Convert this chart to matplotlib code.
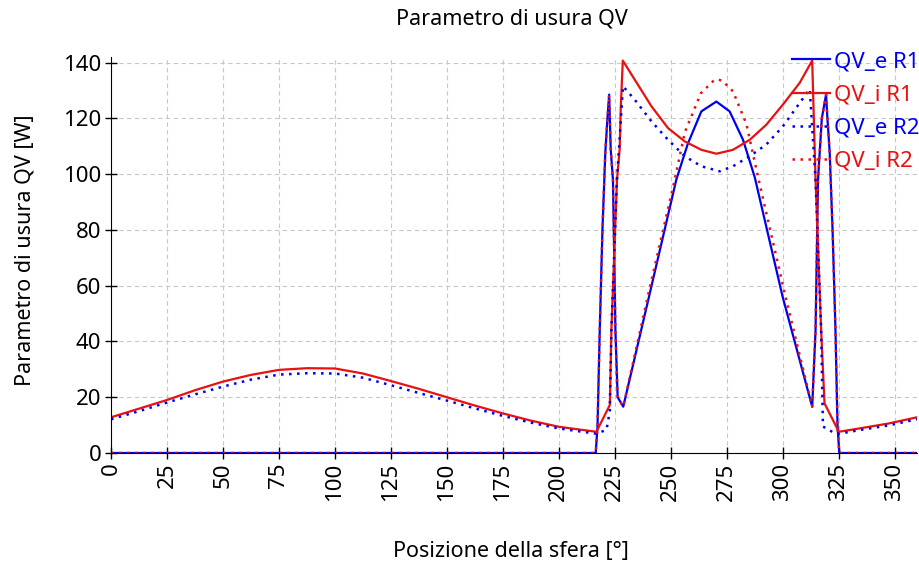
import matplotlib.pyplot as plt

plt.rcParams["font.family"] = ["Noto Sans", "DejaVu Sans"]

BLUE = "#0000f0"
RED = "#e81010"

# sinusoidal part outside the loaded zone
sin_x = [0, 12.5, 25, 37.5, 50, 62.5, 75, 87.5, 100, 112.5, 125, 137.5,
         150, 162.5, 175, 187.5, 200, 216.8]
sin_i_r1 = [12.8, 15.9, 19.0, 22.5, 25.6, 28.0, 29.8, 30.4, 30.3, 28.5, 25.8,
            23.0, 20.0, 17.0, 14.2, 11.6, 9.4, 7.6]
sin_e_r2 = [12.1, 15.0, 18.1, 21.0, 23.8, 26.3, 28.1, 28.6, 28.5, 27.0, 24.3,
            21.5, 18.8, 16.0, 13.3, 10.9, 8.8, 6.9]

# QV_e R1
e_r1_x = [0, 216.5, 217.3, 218.3, 219.5, 220.8, 221.7, 222.5, 223.2, 224.2,
          225.3, 226.3, 228.8, 240, 252.5, 257.7, 263.7, 270.4, 276.3, 282.3,
          287.5, 300, 313.2, 314.7, 315.8, 317.5, 319.4, 320, 321, 322.3,
          323.6, 324.5, 325.3, 360]
e_r1_y = [0, 0, 9.5, 44, 80, 108, 119.5, 128.5, 108.8, 98,
          44, 20, 16.6, 55, 98, 111, 122.5, 126, 122.5, 112.3,
          99, 56, 16.6, 44, 98, 120, 128.5, 120, 108, 80,
          44, 10, 0, 0]

# QV_i R1
i_r1_x = sin_x + [222.8, 223.5, 226, 227.2, 227.7, 228.6, 233.9, 241.4, 248.8,
                  256.3, 263.7, 270.4, 277.8, 285.3, 292.7, 300.1, 307.6,
                  313.2, 314.7, 317.2, 318.7, 325.1, 335, 347.5, 360]
i_r1_y = sin_i_r1 + [17.2, 44, 98, 109, 124, 140.7, 133.9, 124.3, 116.5,
                     111.7, 108.7, 107.3, 108.7, 112.3, 117.7, 124.9, 132.7,
                     140.7, 98, 44, 17.8, 7.6, 8.9, 10.6, 12.8]

# QV_e R2
e_r2_x = sin_x + [221.3, 222.8, 223.5, 226, 228.7, 233.9, 241.4, 248.8, 256.3,
                  263.7, 271.9, 277.8, 285.3, 292.7, 300.1, 307.6, 312.1,
                  314.7, 317.2, 318, 323.2, 325.2, 335, 347.5, 360]
e_r2_y = sin_e_r2 + [8.3, 15, 44, 98, 131.5, 126.7, 118.9, 112.3, 106.4,
                     102.8, 101, 102.8, 106.4, 110.6, 117.1, 125.5, 130.5,
                     98, 44, 9.5, 7.1, 6.9, 8.3, 9.9, 12.1]

# QV_i R2
i_r2_x = [0, 216.5, 217.3, 218.3, 219.5, 220.8, 221.7, 222.5, 223.2, 224.2,
          225.3, 226.3, 228.8, 240, 251.8, 256.3, 263.5, 268.9, 270.5, 273,
          277.8, 283.8, 289, 301, 313.2, 314.7, 315.8, 317.5, 319.4, 320, 321,
          322.3, 323.6, 324.5, 325.3, 360]
i_r2_y = [0, 0, 9.5, 44, 80, 108, 119.5, 128.5, 108.8, 98,
          44, 20, 16.6, 57, 98, 115, 129, 133.3, 134, 133.5,
          129.7, 118, 99, 57, 16.6, 44, 98, 120, 128.5, 120, 108,
          80, 44, 10, 0, 0]

x_ticks = list(range(0, 351, 25))
y_ticks = list(range(0, 141, 20))

fig = plt.figure(figsize=(9.2, 5.69), dpi=100)
ax = fig.add_axes([0.1207, 0.2039, 0.876, 0.696])

dots = (0, (1, 2.2))
ax.plot(e_r1_x, e_r1_y, color=BLUE, lw=1.6, label="QV_e R1")
ax.plot(i_r1_x, i_r1_y, color=RED, lw=1.6, label="QV_i R1")
ax.plot(e_r2_x, e_r2_y, color=BLUE, lw=1.8, ls=dots, label="QV_e R2")
ax.plot(i_r2_x, i_r2_y, color=RED, lw=1.8, ls=dots, label="QV_i R2")

ax.set_xlim(0, 360)
ax.set_ylim(0, 142)
ax.set_xticks(x_ticks)
ax.set_yticks(y_ticks)
ax.tick_params(axis="both", direction="inout", length=8, width=1,
               labelsize=16, pad=3)
ax.tick_params(axis="x", labelrotation=90)
ax.grid(True, color="#c8c8c8", ls=(0, (4, 3)), lw=0.8)
ax.set_axisbelow(True)
for side in ["top", "right"]:
    ax.spines[side].set_visible(False)

fig.text(0.556, 0.967, "Parametro di usura QV", ha="center", va="center",
         fontsize=15.5)
fig.text(0.555, 0.03, "Posizione della sfera [°]", ha="center", va="center",
         fontsize=15.5)
fig.text(0.027, 0.56, "Parametro di usura QV [W]", ha="center", va="center",
         rotation=90, fontsize=15.5)

leg = ax.legend(loc="upper right", bbox_to_anchor=(1.0, 0.91),
                bbox_transform=fig.transFigure, frameon=False, fontsize=16,
                handlelength=1.7, handletextpad=0.2, labelspacing=0.55,
                labelcolor="linecolor", borderaxespad=0, borderpad=0)

fig.savefig("out.png", dpi=100)
